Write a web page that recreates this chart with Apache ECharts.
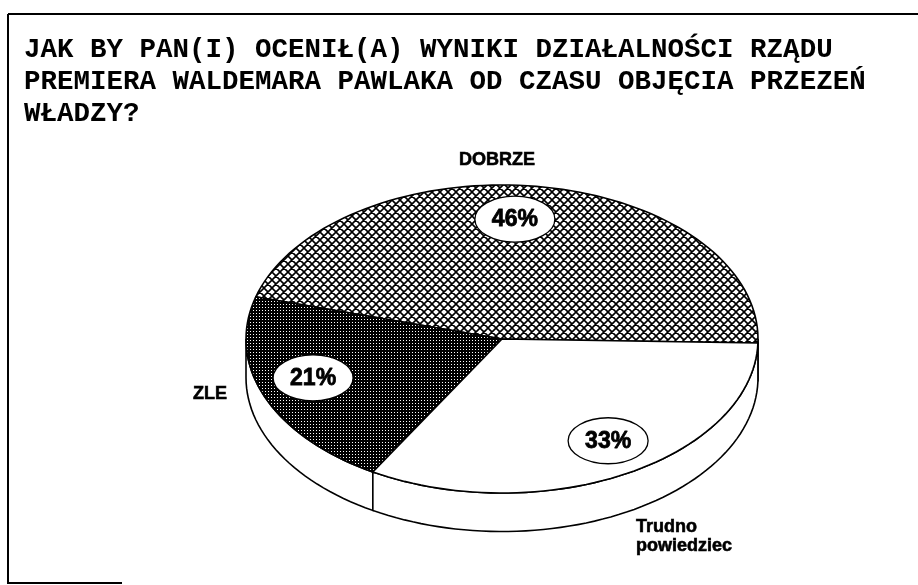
<!DOCTYPE html>
<html>
<head>
<meta charset="utf-8">
<script src="https://cdn.jsdelivr.net/npm/echarts@6/dist/echarts.min.js"></script>
<style>
  html, body { margin: 0; background: #fff; }
  #main { width: 918px; height: 585px; }
</style>
</head>
<body>
<div id="main"></div>
<script>
// pytanie ankietowe
const titleLines = [
  'JAK BY PAN(I) OCENIŁ(A) WYNIKI DZIAŁALNOŚCI RZĄDU',
  'PREMIERA WALDEMARA PAWLAKA OD CZASU OBJĘCIA PRZEZEŃ',
  'WŁADZY?'
];
const categories = ['DOBRZE', 'ZLE', 'Trudno\npowiedziec'];
const shares = [46, 21, 33];

// 3d look of the pie
const depth = 0.25;      // side wall, in y-axis units
const startDeg = -1.5;   // first slice starts just below "3 o'clock", goes counterclockwise
const labelTurn = [5, -3, 3];  // small angle shift of the % bubbles, degrees

function hatchPattern() {
  const n = 8;
  const c = document.createElement('canvas');
  c.width = c.height = n;
  const g = c.getContext('2d');
  g.fillStyle = '#fff';
  g.fillRect(0, 0, n, n);
  g.strokeStyle = '#000';
  g.lineWidth = 1.6;
  g.beginPath();
  for (let k = -1; k <= 1; k++) {
    g.moveTo(-1, -1 + k * n); g.lineTo(n + 1, n + 1 + k * n);
    g.moveTo(-1, n + 1 + k * n); g.lineTo(n + 1, -1 + k * n);
  }
  g.stroke();
  return c;
}

function dotPattern() {
  const c = document.createElement('canvas');
  c.width = c.height = 3;
  const g = c.getContext('2d');
  g.fillStyle = '#000';
  g.fillRect(0, 0, 3, 3);
  g.fillStyle = '#fff';
  g.fillRect(1, 1, 1, 1);
  return c;
}

const fills = [
  { image: hatchPattern(), repeat: 'repeat' },
  { image: dotPattern(), repeat: 'repeat' },
  '#fff'
];

const total = shares.reduce((a, b) => a + b, 0);
const bounds = [];
let acc = startDeg;
shares.forEach(v => {
  const span = v / total * 360;
  bounds.push([acc, acc + span]);
  acc += span;
});

function pt(api, deg, r, dy) {
  const a = deg * Math.PI / 180;
  return api.coord([r * Math.cos(a), r * Math.sin(a) - (dy || 0)]);
}
function arc(api, a0, a1, dy) {
  const pts = [];
  const n = Math.max(2, Math.ceil(Math.abs(a1 - a0) / 2));
  for (let i = 0; i <= n; i++) pts.push(pt(api, a0 + (a1 - a0) * i / n, 1, dy));
  return pts;
}

function renderSlice(params, api) {
  const i = params.dataIndex;
  const a0 = bounds[i][0], a1 = bounds[i][1];
  const children = [];
  // front side wall (lower half of the ellipse)
  [[-180, 0], [180, 360]].forEach(r => {
    const s = Math.max(a0, r[0]), e = Math.min(a1, r[1]);
    if (e > s) {
      children.push({
        type: 'polygon',
        shape: { points: arc(api, s, e, 0).concat(arc(api, e, s, depth)) },
        style: { fill: '#fff', stroke: '#000', lineWidth: 1.6 }
      });
    }
  });
  children.push({
    type: 'polygon',
    shape: { points: [api.coord([0, 0])].concat(arc(api, a0, a1, 0)) },
    style: { fill: fills[i], stroke: '#000', lineWidth: 1.6 }
  });
  const c = pt(api, (a0 + a1) / 2 + labelTurn[i], 0.78, 0);
  children.push({
    type: 'ellipse',
    shape: { cx: c[0], cy: c[1], rx: 40, ry: 23 },
    style: { fill: '#fff', stroke: '#000', lineWidth: 1.3 }
  });
  children.push({
    type: 'text',
    style: {
      text: api.value(1) + '%', x: c[0], y: c[1] + 1,
      align: 'center', verticalAlign: 'middle',
      font: 'bold 23px "Liberation Sans"', fill: '#000',
      stroke: '#000', lineWidth: 0.8
    }
  });
  return { type: 'group', children: children };
}

function outerLabel(text, x, y, align) {
  return {
    type: 'text', x: x, y: y,
    style: {
      text: text, align: align, textAlign: align,
      verticalAlign: 'middle', textVerticalAlign: 'middle',
      font: 'bold 18px "Liberation Sans"', lineHeight: 19, fill: '#000',
      stroke: '#000', lineWidth: 0.6
    }
  };
}

const chart = echarts.init(document.getElementById('main'));
chart.setOption({
  animation: false,
  backgroundColor: '#fff',
  title: {
    text: titleLines.join('\n'),
    left: 19,
    top: 29,
    textStyle: {
      fontFamily: 'Liberation Mono',
      fontWeight: 'bold',
      fontSize: 27.5,
      lineHeight: 32,
      color: '#000'
    }
  },
  grid: { left: 246, top: 185, width: 512, height: 354.2 },
  xAxis: { type: 'value', min: -1, max: 1, show: false },
  yAxis: { type: 'value', min: -1.3, max: 1, show: false },
  series: [{
    type: 'custom',
    clip: false,
    renderItem: renderSlice,
    data: shares.map((v, i) => [i, v])
  }],
  graphic: [
    { type: 'line', shape: { x1: 8, y1: 14, x2: 918, y2: 14 }, style: { stroke: '#000', lineWidth: 2 } },
    { type: 'line', shape: { x1: 8, y1: 14, x2: 8, y2: 584 }, style: { stroke: '#000', lineWidth: 2 } },
    { type: 'line', shape: { x1: 8, y1: 583, x2: 122, y2: 583 }, style: { stroke: '#000', lineWidth: 2 } },
    outerLabel(categories[0], 497, 160, 'center'),
    outerLabel(categories[1], 210, 394, 'center'),
    outerLabel(categories[2], 636, 537, 'left')
  ]
});
</script>
</body>
</html>
